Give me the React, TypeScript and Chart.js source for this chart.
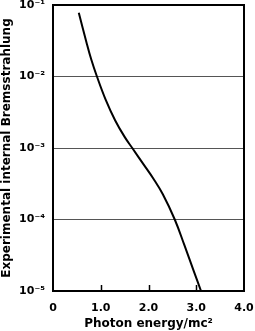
import React, { useEffect, useRef } from "react";
import { Chart, registerables } from "chart.js";

Chart.register(...registerables);

const energy = [0.54, 0.7, 0.8, 0.92, 1.1, 1.3, 1.5, 1.66, 1.9, 2.1, 2.3, 2.55, 2.75, 2.95, 3.1];
const bremsstrahlung = [
  0.0782, 0.0302, 0.0174, 0.01, 0.00479, 0.00245, 0.00143, 0.001, 0.000585, 0.000374, 0.000225, 0.0001,
  0.0000441, 0.0000188, 0.00001,
];
const yTicks = [1e-5, 1e-4, 1e-3, 1e-2, 1e-1];
const yTickLabels: Record<string, string> = {
  "0.00001": "10⁻⁵",
  "0.0001": "10⁻⁴",
  "0.001": "10⁻³",
  "0.01": "10⁻²",
  "0.1": "10⁻¹",
};
const xTicks = [0, 1, 2, 3, 4];
const xTickLabels = ["0", "1.0", "2.0", "3.0", "4.0"];
const innerTicks = [1, 2, 3];

const FONT = "'DejaVu Sans', sans-serif";

const framePlugin = {
  id: "frame",
  afterDatasetsDraw(chart: any) {
    const { ctx, chartArea } = chart;
    const xs = chart.scales.x;
    ctx.save();
    ctx.strokeStyle = "#000";
    ctx.lineWidth = 1.5;
    innerTicks.forEach((v) => {
      const px = Math.round(xs.getPixelForValue(v)) + 0.5;
      ctx.beginPath();
      ctx.moveTo(px, chartArea.bottom);
      ctx.lineTo(px, chartArea.bottom - 6);
      ctx.stroke();
    });
    ctx.lineWidth = 2;
    ctx.strokeRect(chartArea.left, chartArea.top, chartArea.right - chartArea.left, chartArea.bottom - chartArea.top);
    ctx.restore();
  },
};

export default function App() {
  const ref = useRef<HTMLCanvasElement>(null);
  useEffect(() => {
    document.body.style.margin = "0";
    const chart = new Chart(ref.current!, {
      type: "line",
      data: {
        datasets: [
          {
            data: energy.map((x, i) => ({ x, y: bremsstrahlung[i] })),
            borderColor: "#000",
            borderWidth: 2,
            pointRadius: 0,
            tension: 0.4,
            fill: false,
          },
        ],
      },
      options: {
        animation: false,
        responsive: false,
        layout: { padding: { left: 0, top: 5, right: 11, bottom: 0 } },
        plugins: { legend: { display: false }, tooltip: { enabled: false } },
        scales: {
          x: {
            type: "linear",
            min: 0,
            max: 4,
            afterBuildTicks: (s: any) => {
              s.ticks = xTicks.map((v) => ({ value: v }));
            },
            afterFit: (s: any) => {
              s.height = 40;
              s.paddingRight = 0;
              s.paddingLeft = 0;
            },
            grid: { display: false },
            border: { display: false },
            ticks: {
              callback: (v: any) => xTickLabels[xTicks.indexOf(Number(v))] ?? "",
              color: "#000",
              font: { family: FONT, size: 11, weight: "bold" },
              padding: 3,
              maxRotation: 0,
            },
            title: {
              display: true,
              text: "Photon energy/mc²",
              color: "#000",
              font: { family: FONT, size: 12, weight: "bold" },
              padding: { top: 1, bottom: 0 },
            },
          },
          y: {
            type: "logarithmic",
            min: 1e-5,
            max: 1e-1,
            afterBuildTicks: (s: any) => {
              s.ticks = yTicks.map((v) => ({ value: v }));
            },
            afterFit: (s: any) => {
              s.width = 53;
              s.paddingTop = 0;
              s.paddingBottom = 0;
            },
            grid: { color: "#555", lineWidth: 1, drawTicks: false },
            border: { display: false },
            ticks: {
              callback: (v: any) => yTickLabels[String(Number(v))] ?? "",
              color: "#000",
              font: { family: FONT, size: 11, weight: "bold" },
              padding: 8,
            },
            title: {
              display: true,
              text: "Experimental internal Bremsstrahlung",
              color: "#000",
              font: { family: FONT, size: 12, weight: "bold" },
              padding: { top: 0, bottom: 2 },
            },
          },
        },
      },
      plugins: [framePlugin],
    } as any);
    return () => chart.destroy();
  }, []);
  return (
    <div style={{ position: "absolute", left: 0, top: 0, width: 255, height: 331, background: "#fff" }}>
      <canvas ref={ref} width={255} height={331} style={{ width: 255, height: 331 }} />
    </div>
  );
}
